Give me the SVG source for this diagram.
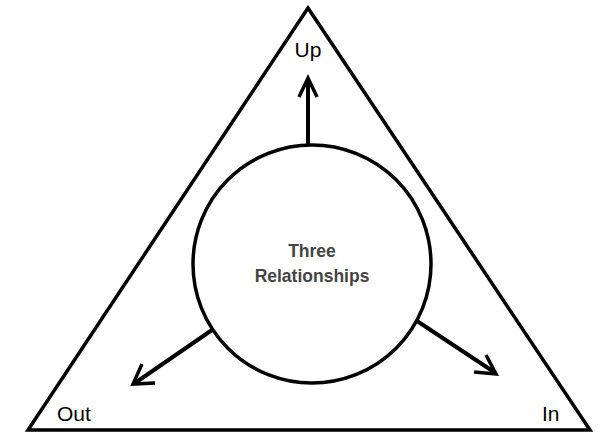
<svg xmlns="http://www.w3.org/2000/svg" width="598" height="434" viewBox="0 0 598 434">
<style>
.shape{fill:none;stroke:#000;stroke-width:3.5;stroke-linejoin:miter}
.arr{fill:none;stroke:#000;stroke-width:4;stroke-linecap:butt}
.head{fill:none;stroke:#000;stroke-width:3.5;stroke-linejoin:miter}
.lbl{font-family:"Liberation Sans",Arial,sans-serif;font-size:21px;fill:#000}
.ctr{font-family:"Liberation Sans",Arial,sans-serif;font-size:17.5px;font-weight:bold;fill:#444;text-anchor:middle}
</style>
<rect width="598" height="434" fill="#fff"/>
<g id="triangle">
<polygon class="shape" points="308,8 28,430 590,430"/>
</g>
<g id="center">
<circle class="shape" cx="312" cy="264" r="119"/>
<text class="ctr" x="312" y="257">Three</text>
<text class="ctr" x="312" y="282">Relationships</text>
</g>
<g id="up"><text class="lbl" x="308" y="57" text-anchor="middle">Up</text></g>
<g id="out"><text class="lbl" x="57" y="421">Out</text></g>
<g id="in"><text class="lbl" x="542" y="421">In</text></g>
<g id="connectors">
<line class="arr" x1="308" y1="145" x2="308" y2="79"/>
<polyline class="head" points="299,97 308,78 317,97"/>
<line class="arr" x1="212" y1="330" x2="135" y2="383"/>
<polyline class="head" points="142,364 133,384 155,383"/>
<line class="arr" x1="417" y1="321" x2="494" y2="372"/>
<polyline class="head" points="486,355 496,374 474,372"/>
</g>
</svg>
